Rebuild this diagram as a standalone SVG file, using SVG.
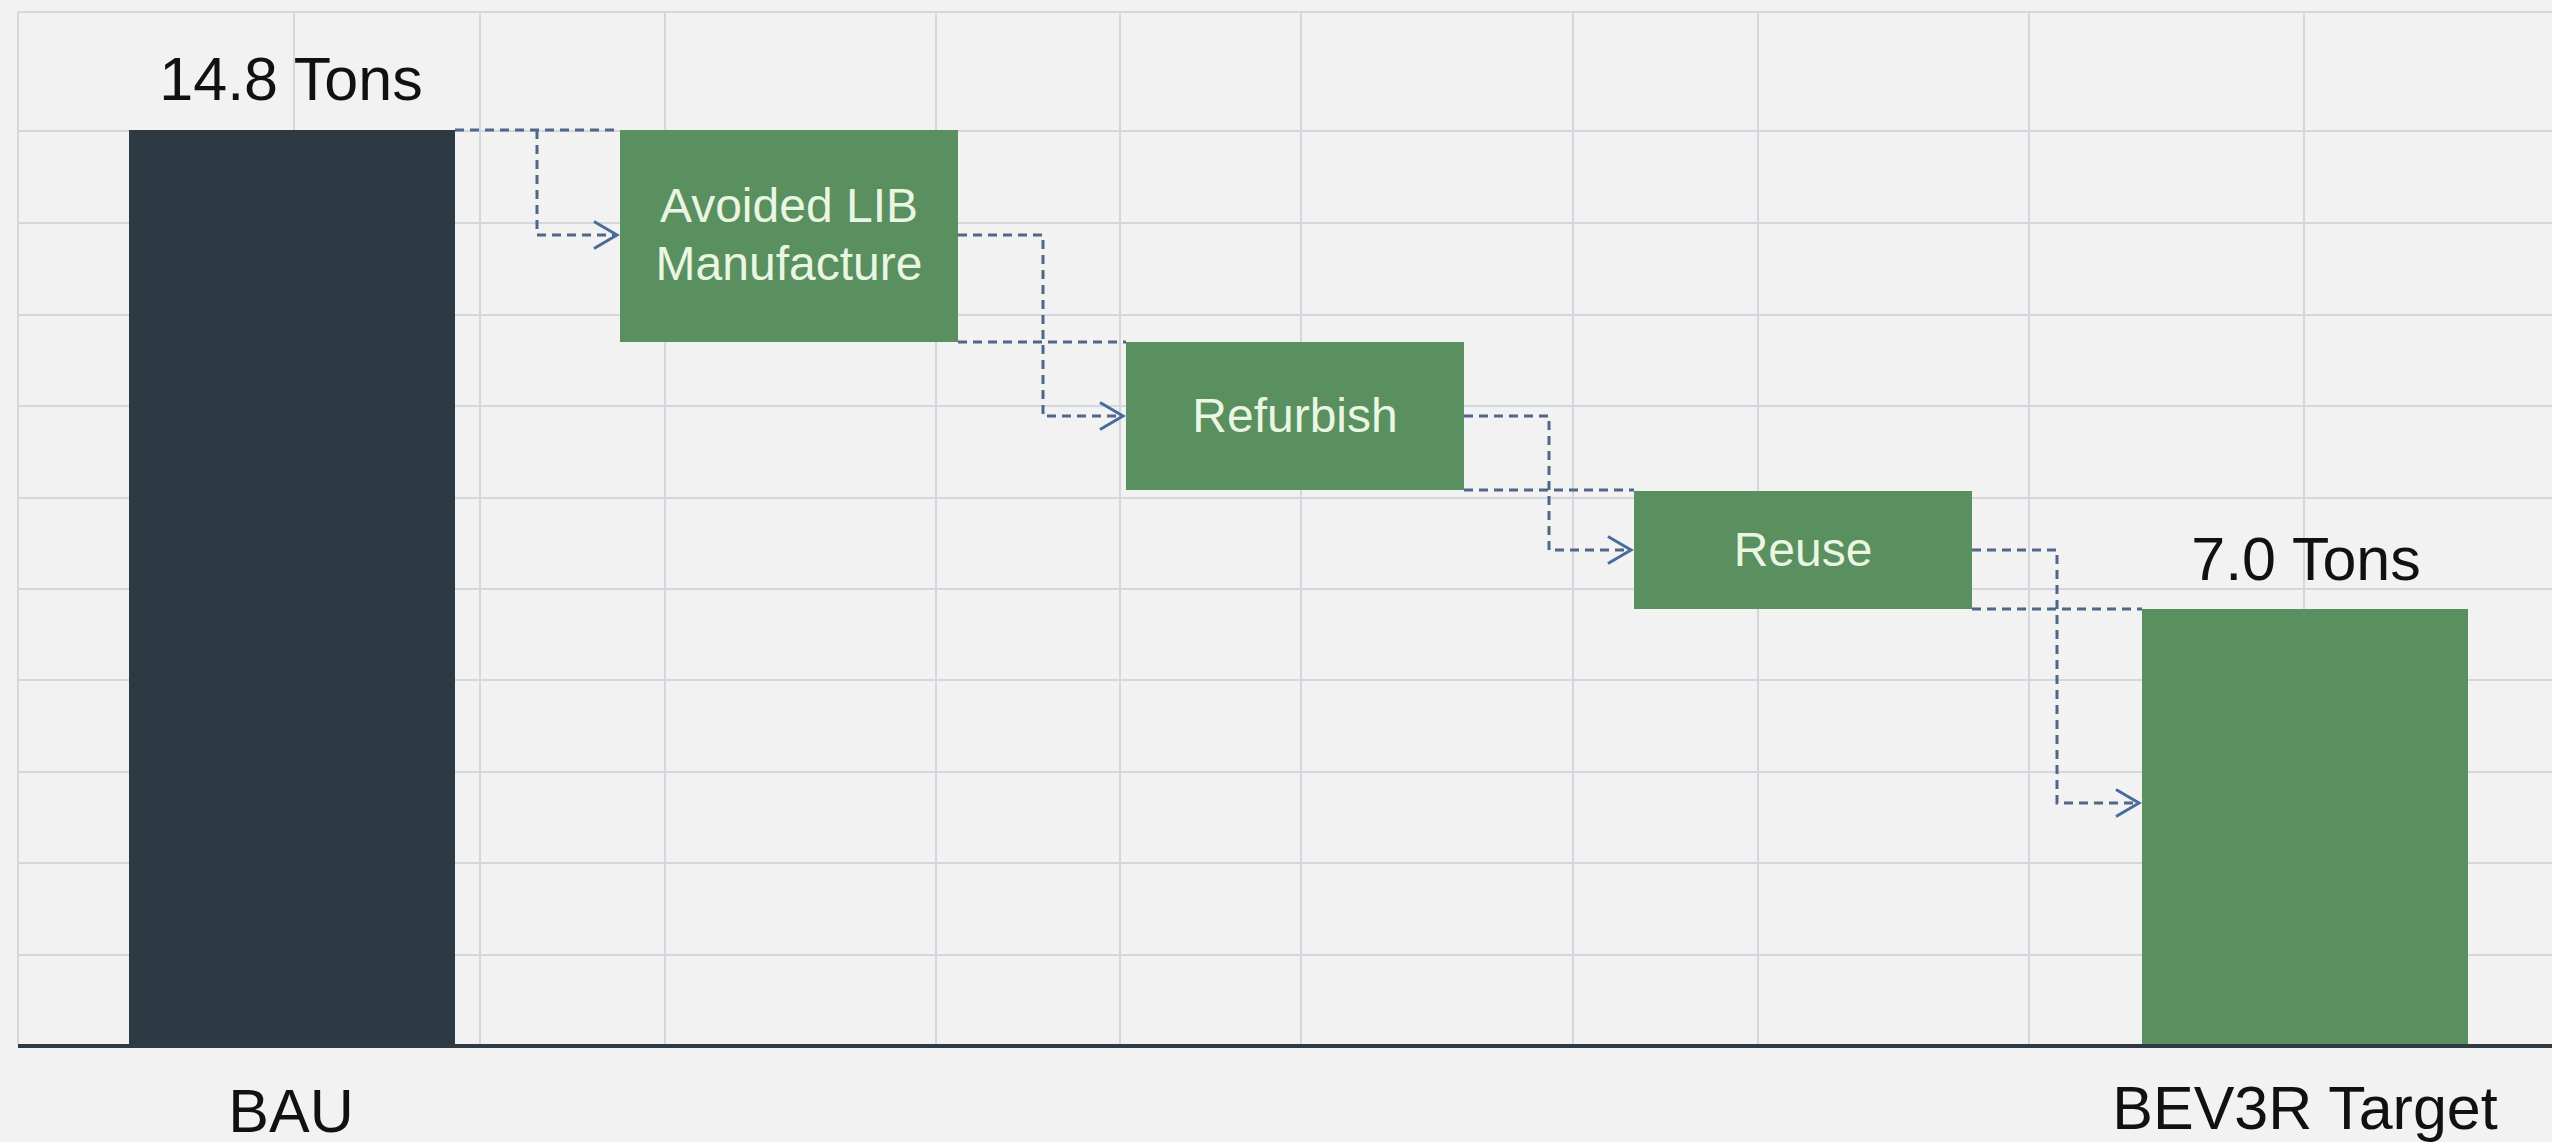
<svg xmlns="http://www.w3.org/2000/svg" width="2552" height="1142" viewBox="0 0 2552 1142">
  <style>
    .grid { stroke: #d3d7de; stroke-width: 2; fill: none; }
    .axis { stroke: #2e3b45; stroke-width: 4; fill: none; }
    .dash { stroke: #4f6788; stroke-width: 3; fill: none; stroke-dasharray: 9 6; }
    .lbl { font-family: "Liberation Sans", Arial, sans-serif; font-size: 61px; fill: #111111; text-anchor: middle; }
    .box { fill: #5a8f5f; }
    .boxtxt { font-family: "Liberation Sans", Arial, sans-serif; font-size: 48px; fill: #e8f6e2; text-anchor: middle; }
  </style>
  <defs>
    <marker id="arrow" markerUnits="userSpaceOnUse" markerWidth="32" markerHeight="34" refX="25" refY="15" orient="auto" viewBox="0 0 32 34">
      <path d="M2,1.5 L25,15 L2,28.5" fill="none" stroke="#4a6c9c" stroke-width="3"/>
    </marker>
  </defs>
  <rect x="0" y="0" width="2552" height="1142" fill="#f2f2f2"/>
  <g id="grid">
    <path class="grid" d="M18,12 H2552 M18,131 H2552 M18,223 H2552 M18,315 H2552 M18,406 H2552 M18,498 H2552 M18,589 H2552 M18,680 H2552 M18,772 H2552 M18,863 H2552 M18,955 H2552"/>
    <path class="grid" d="M18,12 V1045 M294,12 V1045 M480,12 V1045 M665,12 V1045 M936,12 V1045 M1120,12 V1045 M1301,12 V1045 M1573,12 V1045 M1758,12 V1045 M2029,12 V1045 M2304,12 V1045"/>
  </g>
  <g id="bau">
    <rect x="129" y="130" width="326" height="915" fill="#2d3a44"/>
    <text class="lbl" x="291" y="100">14.8 Tons</text>
    <text class="lbl" x="291" y="1132">BAU</text>
  </g>
  <g id="avoided-lib">
    <rect class="box" x="620" y="130" width="338" height="212"/>
    <text class="boxtxt" x="789" y="222">Avoided LIB</text>
    <text class="boxtxt" x="789" y="280">Manufacture</text>
  </g>
  <g id="refurbish">
    <rect class="box" x="1126" y="342" width="338" height="148"/>
    <text class="boxtxt" x="1295" y="432">Refurbish</text>
  </g>
  <g id="reuse">
    <rect class="box" x="1634" y="491" width="338" height="118"/>
    <text class="boxtxt" x="1803" y="566">Reuse</text>
  </g>
  <g id="bev3r-target">
    <rect class="box" x="2142" y="609" width="326" height="436"/>
    <text class="lbl" x="2306" y="580">7.0 Tons</text>
    <text class="lbl" x="2305" y="1129">BEV3R Target</text>
  </g>
  <g id="connectors">
    <path class="dash" d="M455,130 H620"/>
    <path class="dash" d="M537,130 V235 H617" marker-end="url(#arrow)"/>
    <path class="dash" d="M958,342 H1126"/>
    <path class="dash" d="M958,235 H1043 V416 H1123" marker-end="url(#arrow)"/>
    <path class="dash" d="M1464,490 H1634"/>
    <path class="dash" d="M1464,416 H1549 V550 H1631" marker-end="url(#arrow)"/>
    <path class="dash" d="M1972,609 H2142"/>
    <path class="dash" d="M1972,550 H2057 V803 H2139" marker-end="url(#arrow)"/>
  </g>
  <line class="axis" x1="18" y1="1046" x2="2552" y2="1046"/>
</svg>
